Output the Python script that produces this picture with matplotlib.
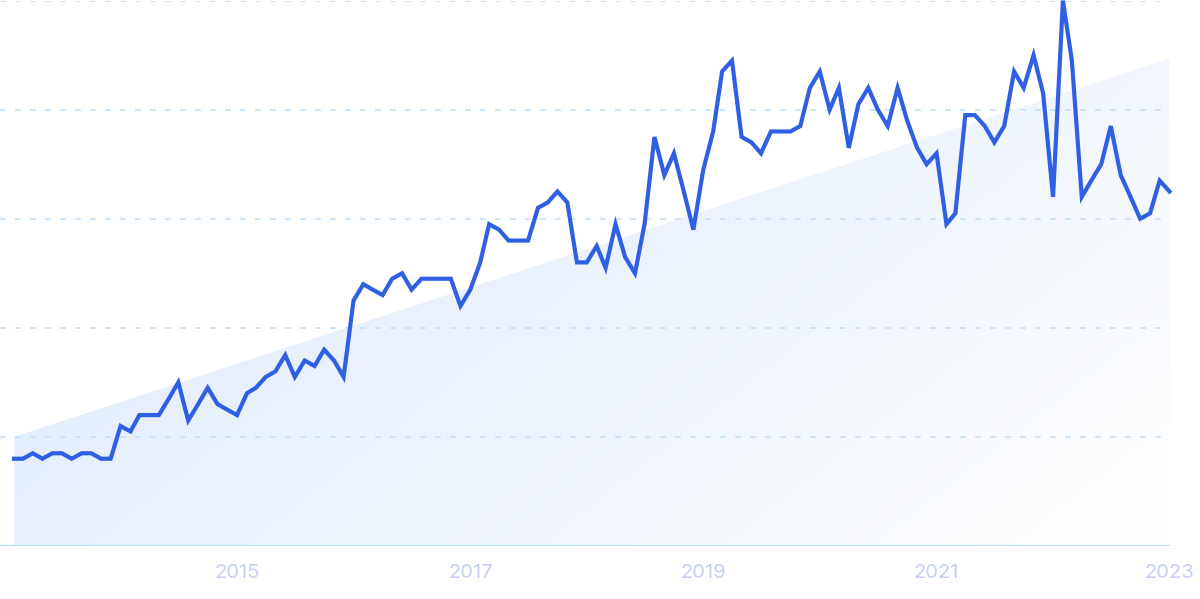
import matplotlib
matplotlib.use("Agg")
import matplotlib.pyplot as plt
import matplotlib.dates as mdates
import numpy as np
import pandas as pd
from matplotlib.colors import to_rgb
from matplotlib.patches import Polygon

LINE_COLOR = "#2f5fe3"
GRID_COLOR = "#c3e1fa"
BASE_COLOR = "#b8e3fb"
TICK_COLOR = "#c6cff2"
FILL_START = "#d9e7fa"
FILL_END = "#ffffff"

# monthly interest, Feb 2013 .. Jan 2023
months = pd.date_range("2013-02-01", periods=120, freq="MS")
interest = [
    16, 16, 17, 16, 17, 17, 16, 17, 17, 16, 16, 22,
    21, 24, 24, 24, 27, 30, 23, 26, 29, 26, 25, 24,
    28, 29, 31, 32, 35, 31, 34, 33, 36, 34, 31, 45,
    48, 47, 46, 49, 50, 47, 49, 49, 49, 49, 44, 47,
    52, 59, 58, 56, 56, 56, 62, 63, 65, 63, 52, 52,
    55, 51, 59, 53, 50, 59, 75, 68, 72, 65, 58, 69,
    76, 87, 89, 75, 74, 72, 76, 76, 76, 77, 84, 87,
    80, 84, 73, 81, 84, 80, 77, 84, 78, 73, 70, 72,
    59, 61, 79, 79, 77, 74, 77, 87, 84, 90, 83, 64,
    100, 89, 64, 67, 70, 77, 68, 64, 60, 61, 67, 65,
]
trend_start, trend_end = 20, 89.4
year_ticks = ["2015", "2017", "2019", "2021", "2023"]

fig = plt.figure(figsize=(12, 5.99), dpi=100)
ax = fig.add_axes([0, 0.0885, 0.975, 0.9105])

x = mdates.date2num(months)
ax.set_xlim(x[0] - 1.44 * 30.4, x[-1] + 0.05 * 30.4)
ax.set_ylim(0, 100)

# trend area with diagonal gradient
poly = Polygon(
    [(x[0], 0), (x[0], trend_start), (x[-1], trend_end), (x[-1], 0)],
    closed=True, facecolor="none", edgecolor="none",
)
ax.add_patch(poly)
gx, gy = np.meshgrid(np.linspace(0, 1, 400), np.linspace(1, 0, 200))
t = np.clip((gx * 0.75 + (1 - gy) * 0.45) / 1.2, 0, 1)[..., None]
c0 = np.array(to_rgb(FILL_START))
c1 = np.array(to_rgb(FILL_END))
img = c0 * (1 - t) + c1 * t
im = ax.imshow(img, extent=[x[0], x[-1], 0, 100], aspect="auto",
               origin="upper", zorder=1, interpolation="bilinear")
im.set_clip_path(poly)

for yv in [20, 40, 60, 80, 100]:
    ax.axhline(yv, color=GRID_COLOR, lw=1.2, linestyle=(0, (3.5, 5.5)), zorder=2)
ax.axhline(0, color=BASE_COLOR, lw=1.5, zorder=2)

ax.plot(x, interest, color=LINE_COLOR, lw=3, solid_joinstyle="miter",
        zorder=3, clip_on=False)

tick_pos = mdates.date2num([pd.Timestamp(f"{y}-01-01") for y in year_ticks])
ax.set_xticks(tick_pos)
ax.set_xticklabels(year_ticks)
ax.tick_params(axis="x", length=0, pad=13, labelsize=14.5, labelcolor=TICK_COLOR)
for lab in ax.get_xticklabels():
    lab.set_fontfamily("Inter")
ax.set_yticks([])
for s in ax.spines.values():
    s.set_visible(False)

fig.savefig("out.png", dpi=100, facecolor="white")
